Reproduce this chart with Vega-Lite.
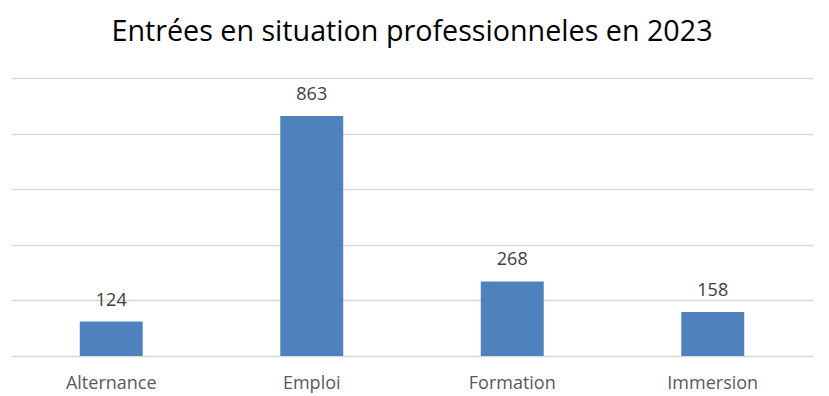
{
  "$schema": "https://vega.github.io/schema/vega-lite/v6.json",
  "width": 802,
  "height": 278,
  "autosize": "none",
  "padding": {"left": 11, "top": 78, "right": 16, "bottom": 40},
  "background": "white",
  "title": {
    "text": "Entrées en situation professionneles en 2023",
    "font": "Open Sans",
    "fontSize": 28.7,
    "fontWeight": "normal",
    "color": "#000000",
    "anchor": "middle",
    "offset": 31
  },
  "data": {
    "values": [
      {"categorie": "Alternance", "entrees": 124},
      {"categorie": "Emploi", "entrees": 863},
      {"categorie": "Formation", "entrees": 268},
      {"categorie": "Immersion", "entrees": 158}
    ]
  },
  "encoding": {
    "x": {
      "field": "categorie",
      "type": "nominal",
      "sort": null,
      "scale": {"paddingInner": 0.686, "paddingOuter": 0.343},
      "axis": {
        "title": null,
        "labelAngle": 0,
        "labelFont": "Open Sans",
        "labelFontSize": 18,
        "labelColor": "#595959",
        "labelPadding": 18,
        "domain": false,
        "ticks": false
      }
    },
    "y": {
      "field": "entrees",
      "type": "quantitative",
      "scale": {"domain": [0, 1000], "nice": false},
      "axis": {
        "title": null,
        "labels": false,
        "domain": false,
        "ticks": false,
        "values": [0, 200, 400, 600, 800, 1000],
        "gridColor": "#D9D9D9",
        "gridWidth": 1.5
      }
    }
  },
  "layer": [
    {"mark": {"type": "bar", "color": "#4F81BD"}},
    {
      "mark": {"type": "text", "dy": -21, "font": "Open Sans", "fontSize": 18, "color": "#404040"},
      "encoding": {"text": {"field": "entrees", "type": "quantitative"}}
    }
  ],
  "config": {"view": {"stroke": null}}
}
